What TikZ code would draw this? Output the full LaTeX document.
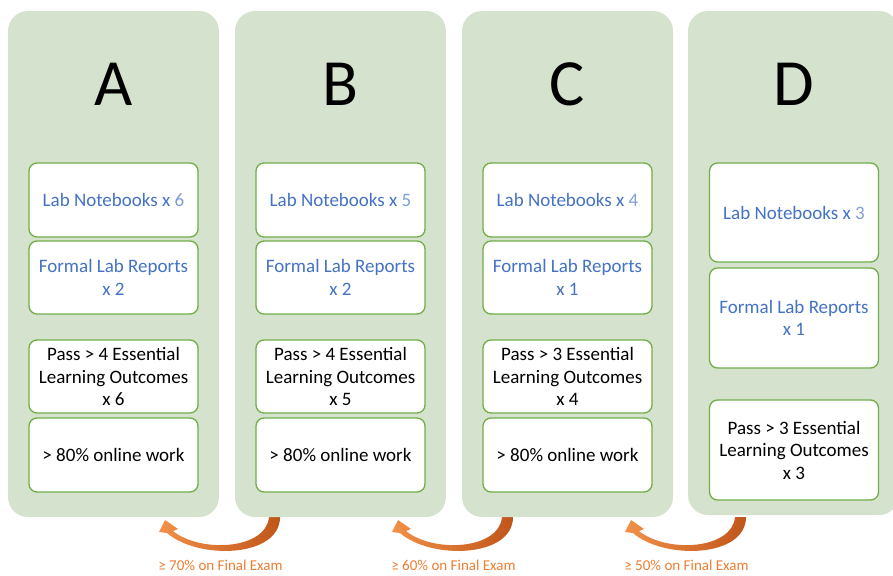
\documentclass[tikz,border=0pt]{standalone}
\usepackage{fontspec}
\setmainfont{Carlito}
\definecolor{panelgreen}{HTML}{D5E3CE}
\definecolor{boxgreen}{HTML}{70AD47}
\definecolor{textblue}{HTML}{4472C4}
\definecolor{numblue}{HTML}{7F9FD6}
\definecolor{arrowlight}{HTML}{F29048}
\definecolor{arrowdark}{HTML}{C0561A}
\definecolor{examorange}{HTML}{ED7D31}
\begin{document}
\begin{tikzpicture}[x=1pt,y=-1pt,
	panel/.style={fill=panelgreen, rounded corners=20pt, minimum width=211pt, inner sep=0pt},
	item/.style={draw=boxgreen, line width=1.3pt, fill=white, rounded corners=8pt, minimum width=169pt, align=center, inner sep=2pt, font=\fontsize{19}{22.5}\selectfont},
	blueitem/.style={item, text=textblue},
	letter/.style={anchor=base, font=\fontsize{66}{70}\selectfont},
	exam/.style={text=examorange, inner sep=1pt, font=\fontsize{15}{17}\selectfont}]
	\useasboundingbox (0,0) rectangle (893,575);
	% curved arrows under the panels
	\foreach \o/\pct in {0/70,233/60,466/50}{
		\begin{scope}[xshift=\o]
			\shade[left color=arrowlight, right color=arrowdark] (269,517) .. controls (266,550) and (200,553) .. (173,531) -- (178,529) -- (165,520) -- (159,532) -- (167,533) .. controls (198,560) and (280,558) .. (280,517) -- cycle;
			\node[exam] (exam\pct) at (220.5,565.5) {≥ \pct\% on Final Exam};
		\end{scope}
	}
	% grades A, B, C
	\foreach \n/\o/\nb/\fr/\ps/\lo in {A/0/6/2/4/6, B/227/5/2/4/5, C/454/4/1/3/4}{
		\node[panel, minimum height=506pt] (panel\n) at (113.5+\o,264) {};
		\node[letter] (letter\n) at (113.5+\o,106) {\n};
		\node[blueitem, minimum height=74pt] (notes\n) at (113.5+\o,200) {Lab Notebooks x \textcolor{numblue}{\nb}};
		\node[blueitem, minimum height=73pt] (report\n) at (113.5+\o,277.5) {Formal Lab Reports\\x \fr};
		\node[item, minimum height=73pt] (pass\n) at (113.5+\o,376.5) {Pass > \ps\ Essential\\Learning Outcomes\\x \lo};
		\node[item, minimum height=74pt] (online\n) at (113.5+\o,455) {> 80\% online work};
	}
	% grade D
	\node[panel, minimum height=504pt] (panelD) at (793.5,263) {};
	\node[letter] (letterD) at (794,106) {D};
	\node[blueitem, minimum height=99pt] (notesD) at (794,212.5) {Lab Notebooks x \textcolor{numblue}{3}};
	\node[blueitem, minimum height=100pt] (reportD) at (794,318) {Formal Lab Reports\\x 1};
	\node[item, minimum height=100pt] (passD) at (794,450) {Pass > 3 Essential\\Learning Outcomes\\x 3};
\end{tikzpicture}
\end{document}
